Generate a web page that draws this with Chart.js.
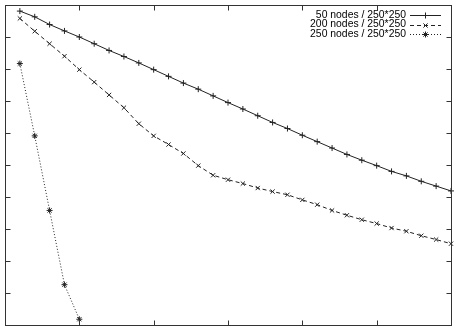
<!DOCTYPE html>
<html>
<head>
<meta charset="utf-8">
<script src="https://cdn.jsdelivr.net/npm/chart.js@4/dist/chart.umd.min.js"></script>
<style>
  html, body { margin: 0; padding: 0; background: #fff; }
  #wrap { width: 458px; height: 331px; }
</style>
</head>
<body>
<div id="wrap"><canvas id="myChart" width="458" height="331"></canvas></div>
<script>
// data (x = step, y in axis units 0..10)
const steps = [];
for (let i = 1; i <= 30; i++) steps.push(i);

const labels = ['50 nodes / 250*250', '200 nodes / 250*250', '250 nodes / 250*250'];

const nodes50 = [9.81, 9.63, 9.39, 9.19, 9.00, 8.79, 8.58, 8.39, 8.19, 7.98,
                 7.77, 7.56, 7.37, 7.16, 6.95, 6.75, 6.54, 6.33, 6.14, 5.93,
                 5.73, 5.53, 5.33, 5.15, 4.98, 4.80, 4.66, 4.49, 4.34, 4.19];
const nodes200 = [9.58, 9.18, 8.79, 8.40, 7.98, 7.59, 7.19, 6.79, 6.29, 5.91,
                  5.64, 5.36, 4.98, 4.68, 4.54, 4.42, 4.28, 4.17, 4.07, 3.91,
                  3.76, 3.58, 3.43, 3.29, 3.17, 3.03, 2.93, 2.79, 2.67, 2.54];
const nodes250 = [8.17, 5.91, 3.58, 1.26, 0.18];

const xTicks = [0, 5, 10, 15, 20, 25, 30];
const yTicks = [0, 1, 2, 3, 4, 5, 6, 7, 8, 9, 10];

const dashes = [[], [4, 3], [1, 2]];
const markers = ['cross', 'crossRot', 'star'];
const ink = '#222';

function pts(arr) {
    return arr.map((v, i) => ({x: steps[i], y: v}));
}

// gnuplot style frame with inward ticks on all four sides + key
const framePlugin = {
    id: 'frame',
    afterDraw(chart) {
        const ctx = chart.ctx;
        const a = chart.chartArea;
        const xs = chart.scales.x, ys = chart.scales.y;
        ctx.save();
        ctx.strokeStyle = '#333';
        ctx.lineWidth = 1;
        const L = Math.round(a.left) + 0.5, R = Math.round(a.right) + 0.5;
        const T = Math.round(a.top) + 0.5, B = Math.round(a.bottom) + 0.5;
        ctx.strokeRect(L, T, R - L, B - T);
        ctx.beginPath();
        xTicks.forEach(t => {
            const px = Math.round(xs.getPixelForValue(t)) + 0.5;
            ctx.moveTo(px, B); ctx.lineTo(px, B - 5);
            ctx.moveTo(px, T); ctx.lineTo(px, T + 5);
        });
        yTicks.forEach(t => {
            const py = Math.round(ys.getPixelForValue(t)) + 0.5;
            ctx.moveTo(L, py); ctx.lineTo(L + 5, py);
            ctx.moveTo(R, py); ctx.lineTo(R - 5, py);
        });
        ctx.stroke();

        // key
        ctx.font = '10.4px "Liberation Sans", Arial, sans-serif';
        ctx.fillStyle = '#000';
        ctx.textAlign = 'right';
        ctx.textBaseline = 'middle';
        const rows = [15, 24.5, 34];
        labels.forEach((lab, i) => {
            const y = rows[i];
            ctx.fillText(lab, 406, y);
            ctx.beginPath();
            ctx.setLineDash(dashes[i]);
            ctx.strokeStyle = ink;
            ctx.moveTo(410, Math.round(y) + 0.5);
            ctx.lineTo(441, Math.round(y) + 0.5);
            ctx.stroke();
            ctx.setLineDash([]);
            Chart.helpers.drawPoint(ctx, {pointStyle: markers[i], radius: 3, borderWidth: 1}, 425.5, Math.round(y) + 0.5);
        });
        ctx.restore();
    }
};

function series(i, data) {
    return {
        label: labels[i],
        data: pts(data),
        borderColor: ink,
        backgroundColor: ink,
        borderWidth: 1,
        borderDash: dashes[i],
        pointStyle: markers[i],
        pointRadius: 3,
        pointBorderWidth: 1,
        pointBorderColor: ink
    };
}

const ctx = document.getElementById('myChart');
const myChart = new Chart(ctx, {
    type: 'line',
    data: {
        datasets: [series(0, nodes50), series(1, nodes200), series(2, nodes250)]
    },
    options: {
        responsive: false,
        animation: false,
        clip: false,
        layout: {
            padding: {left: 2, top: 4, right: 7, bottom: 6}
        },
        scales: {
            x: {type: 'linear', min: 0, max: 30, display: false},
            y: {type: 'linear', min: 0, max: 10, display: false}
        },
        plugins: {
            legend: {display: false},
            tooltip: {enabled: false}
        }
    },
    plugins: [framePlugin]
});
</script>
</body>
</html>
